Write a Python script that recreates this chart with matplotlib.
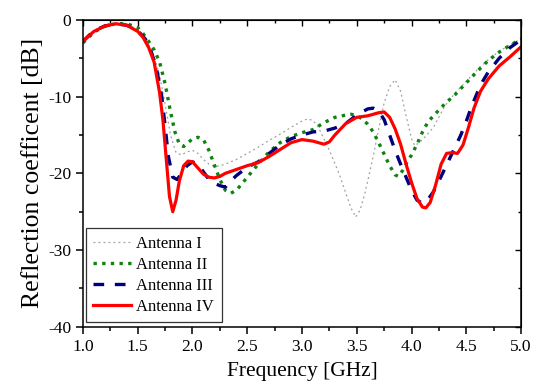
import matplotlib
matplotlib.use("Agg")
import matplotlib.pyplot as plt
from matplotlib.ticker import MultipleLocator, FormatStrFormatter

plt.rcParams['font.family'] = ['Liberation Serif', 'DejaVu Serif']
plt.rcParams['axes.unicode_minus'] = False

f4 = [1.0, 1.1, 1.2, 1.3, 1.4, 1.5, 1.55, 1.6, 1.65, 1.7, 1.73, 1.76, 1.79, 1.82, 1.85, 1.88, 1.92, 1.96, 2.0,
      2.05, 2.1, 2.15, 2.2, 2.25, 2.3, 2.4, 2.5, 2.6, 2.7, 2.8, 2.9, 3.0, 3.1, 3.2, 3.25, 3.3, 3.4, 3.5, 3.6,
      3.7, 3.75, 3.8, 3.85, 3.9, 3.95, 4.0, 4.05, 4.1, 4.13, 4.17, 4.22, 4.27, 4.32, 4.37, 4.42, 4.47, 4.52,
      4.57, 4.63, 4.7, 4.8, 4.9, 5.0]
s4 = [-2.8, -1.5, -0.8, -0.5, -0.7, -1.5, -2.3, -3.6, -5.5, -9.5, -13, -18, -23, -25, -23.5, -21, -19, -18.4, -18.5,
      -19.3, -20.1, -20.5, -20.6, -20.4, -20.0, -19.5, -19.0, -18.6, -17.8, -16.9, -16.0, -15.6, -15.8, -16.2, -15.9,
      -15.0, -13.5, -12.7, -12.5, -12.1, -12.0, -12.7, -14.2, -16.2, -18.8, -21.2, -23.3, -24.4, -24.5, -23.8, -21.5,
      -18.8, -17.4, -17.3, -17.4, -16.3, -14.0, -11.5, -9.3, -7.7, -6.0, -4.8, -3.5]

f3 = [1.0, 1.1, 1.2, 1.3, 1.4, 1.5, 1.57, 1.62, 1.67, 1.72, 1.75, 1.78, 1.82, 1.86, 1.9, 1.95, 2.0, 2.05, 2.1,
      2.15, 2.2, 2.25, 2.3, 2.35, 2.4, 2.5, 2.6, 2.7, 2.8, 2.9, 3.0, 3.1, 3.2, 3.3, 3.4, 3.5, 3.6, 3.65, 3.7,
      3.75, 3.8, 3.85, 3.9, 3.95, 4.0, 4.05, 4.1, 4.15, 4.2, 4.25, 4.3, 4.35, 4.4, 4.45, 4.5, 4.55, 4.6, 4.65,
      4.7, 4.8, 4.9, 5.0]
s3 = [-2.8, -1.4, -0.8, -0.5, -0.7, -1.4, -2.5, -4.0, -6.2, -10.0, -13.8, -17.8, -20.5, -20.8, -20.0, -19.0, -18.5,
      -18.8, -19.8, -20.8, -21.3, -21.6, -21.8, -21.0, -20.3, -19.2, -18.5, -17.4, -16.3, -15.5, -15.0, -14.6, -14.5,
      -14.1, -13.5, -12.4, -11.6, -11.5, -11.9, -13.0, -15.0, -17.0, -18.8, -20.5, -22.2, -23.5, -23.9, -23.4, -22.4,
      -21.0, -19.5, -18.0, -16.5, -15.0, -13.2, -11.2, -9.5, -8.0, -6.8, -5.0, -3.6, -2.6]

f2 = [1.0, 1.1, 1.2, 1.3, 1.4, 1.5, 1.55, 1.6, 1.65, 1.7, 1.75, 1.8, 1.84, 1.88, 1.92, 1.96, 2.0, 2.05, 2.1,
      2.15, 2.2, 2.25, 2.3, 2.35, 2.4, 2.45, 2.5, 2.6, 2.7, 2.8, 2.9, 3.0, 3.1, 3.2, 3.3, 3.4, 3.45, 3.5, 3.55,
      3.6, 3.65, 3.7, 3.75, 3.8, 3.85, 3.88, 3.92, 3.96, 4.0, 4.05, 4.1, 4.15, 4.2, 4.3, 4.4, 4.5, 4.6, 4.7,
      4.8, 4.9, 5.0]
s2 = [-3.0, -1.6, -0.8, -0.5, -0.5, -1.0, -1.8, -2.8, -3.9, -5.5, -8.3, -12.0, -14.6, -16.2, -16.5, -16.0, -15.5,
      -15.3, -15.6, -17.0, -18.9, -20.8, -22.2, -22.6, -22.2, -21.4, -20.5, -18.8, -17.2, -16.0, -15.2, -14.7, -14.3,
      -13.4, -12.7, -12.4, -12.3, -12.5, -12.9, -13.6, -14.6, -16.0, -17.5, -19.0, -20.2, -20.4, -19.6, -18.5, -17.6,
      -16.2, -14.6, -13.3, -12.5, -11.0, -9.7, -8.2, -6.7, -5.3, -4.2, -3.3, -2.5]

f1 = [1.0, 1.1, 1.2, 1.3, 1.4, 1.5, 1.55, 1.6, 1.65, 1.7, 1.75, 1.8, 1.85, 1.9, 1.95, 2.0, 2.05, 2.1, 2.15,
      2.2, 2.25, 2.3, 2.4, 2.5, 2.6, 2.7, 2.8, 2.9, 3.0, 3.05, 3.1, 3.15, 3.2, 3.25, 3.3, 3.35, 3.4, 3.45, 3.49,
      3.53, 3.57, 3.6, 3.65, 3.7, 3.75, 3.8, 3.85, 3.9, 3.95, 4.0, 4.03, 4.07, 4.12, 4.2, 4.3, 4.4, 4.5, 4.6,
      4.7, 4.8, 4.9, 5.0]
s1 = [-2.8, -1.5, -0.8, -0.5, -0.6, -1.2, -2.0, -3.2, -4.8, -7.2, -11.0, -15.0, -17.3, -17.6, -17.2, -17.0, -17.4,
      -18.2, -18.8, -19.1, -19.0, -18.8, -18.2, -17.4, -16.6, -15.7, -14.9, -14.0, -13.2, -12.9, -13.1, -14.0, -15.5,
      -17.0, -18.7, -20.5, -22.6, -24.6, -25.7, -24.8, -22.8, -21.0, -17.8, -14.2, -10.8, -8.7, -7.8, -9.3, -12.5,
      -15.5, -16.4, -16.0, -15.3, -14.0, -11.3, -9.5, -8.0, -6.5, -5.2, -4.1, -3.2, -2.5]

labels = ['Antenna I', 'Antenna II', 'Antenna III', 'Antenna IV']

fig = plt.figure(figsize=(5.35, 3.9), dpi=100)
ax = fig.add_axes([0.155, 0.162, 0.819, 0.787])

ax.plot(f1, s1, color='#a0a0a0', lw=0.9, ls=(0, (1.5, 2.5)), label=labels[0])
ax.plot(f2, s2, color='#0f820f', lw=2.4, ls=(0, (1, 1.6)), label=labels[1])
ax.plot(f3, s3, color='#00007f', lw=2.4, ls=(0, (3.2, 3.2)), label=labels[2])
ax.plot(f4, s4, color='#ff0000', lw=2.3, ls='-', label=labels[3])

ax.set_xlim(1.0, 5.0)
ax.set_ylim(-40, 0)
ax.xaxis.set_major_locator(MultipleLocator(0.5))
ax.xaxis.set_minor_locator(MultipleLocator(0.25))
ax.xaxis.set_major_formatter(FormatStrFormatter('%.1f'))
ax.yaxis.set_major_locator(MultipleLocator(10))
ax.yaxis.set_minor_locator(MultipleLocator(5))

for sp in ax.spines.values():
    sp.set_linewidth(1.1)

ax.tick_params(which='both', direction='out', width=1.1, labelsize=12.5, top=False, right=False)
ax.tick_params(which='major', length=5)
ax.tick_params(which='minor', length=3)

secx = ax.secondary_xaxis('top')
secx.xaxis.set_major_locator(MultipleLocator(0.5))
secx.xaxis.set_minor_locator(MultipleLocator(0.25))
secx.tick_params(which='both', direction='in', width=1.0, labeltop=False)
secx.tick_params(which='major', length=4)
secx.tick_params(which='minor', length=2.5)
secy = ax.secondary_yaxis('right')
secy.yaxis.set_major_locator(MultipleLocator(10))
secy.yaxis.set_minor_locator(MultipleLocator(5))
secy.tick_params(which='both', direction='in', width=1.0, labelright=False)
secy.tick_params(which='major', length=4)
secy.tick_params(which='minor', length=2.5)

ax.set_xlabel('Frequency [GHz]', fontsize=15.5, labelpad=5)
ax.set_ylabel('Reflection coefficent [dB]', fontsize=18.5, labelpad=3)

leg = ax.legend(loc='lower left', bbox_to_anchor=(0.006, 0.015), fontsize=12, frameon=True, fancybox=False,
                edgecolor='black', handlelength=2.3, handletextpad=0.3,
                borderpad=0.45, labelspacing=0.3, borderaxespad=0.0)
leg.get_frame().set_linewidth(0.9)

fig.savefig('out.png', dpi=100)
